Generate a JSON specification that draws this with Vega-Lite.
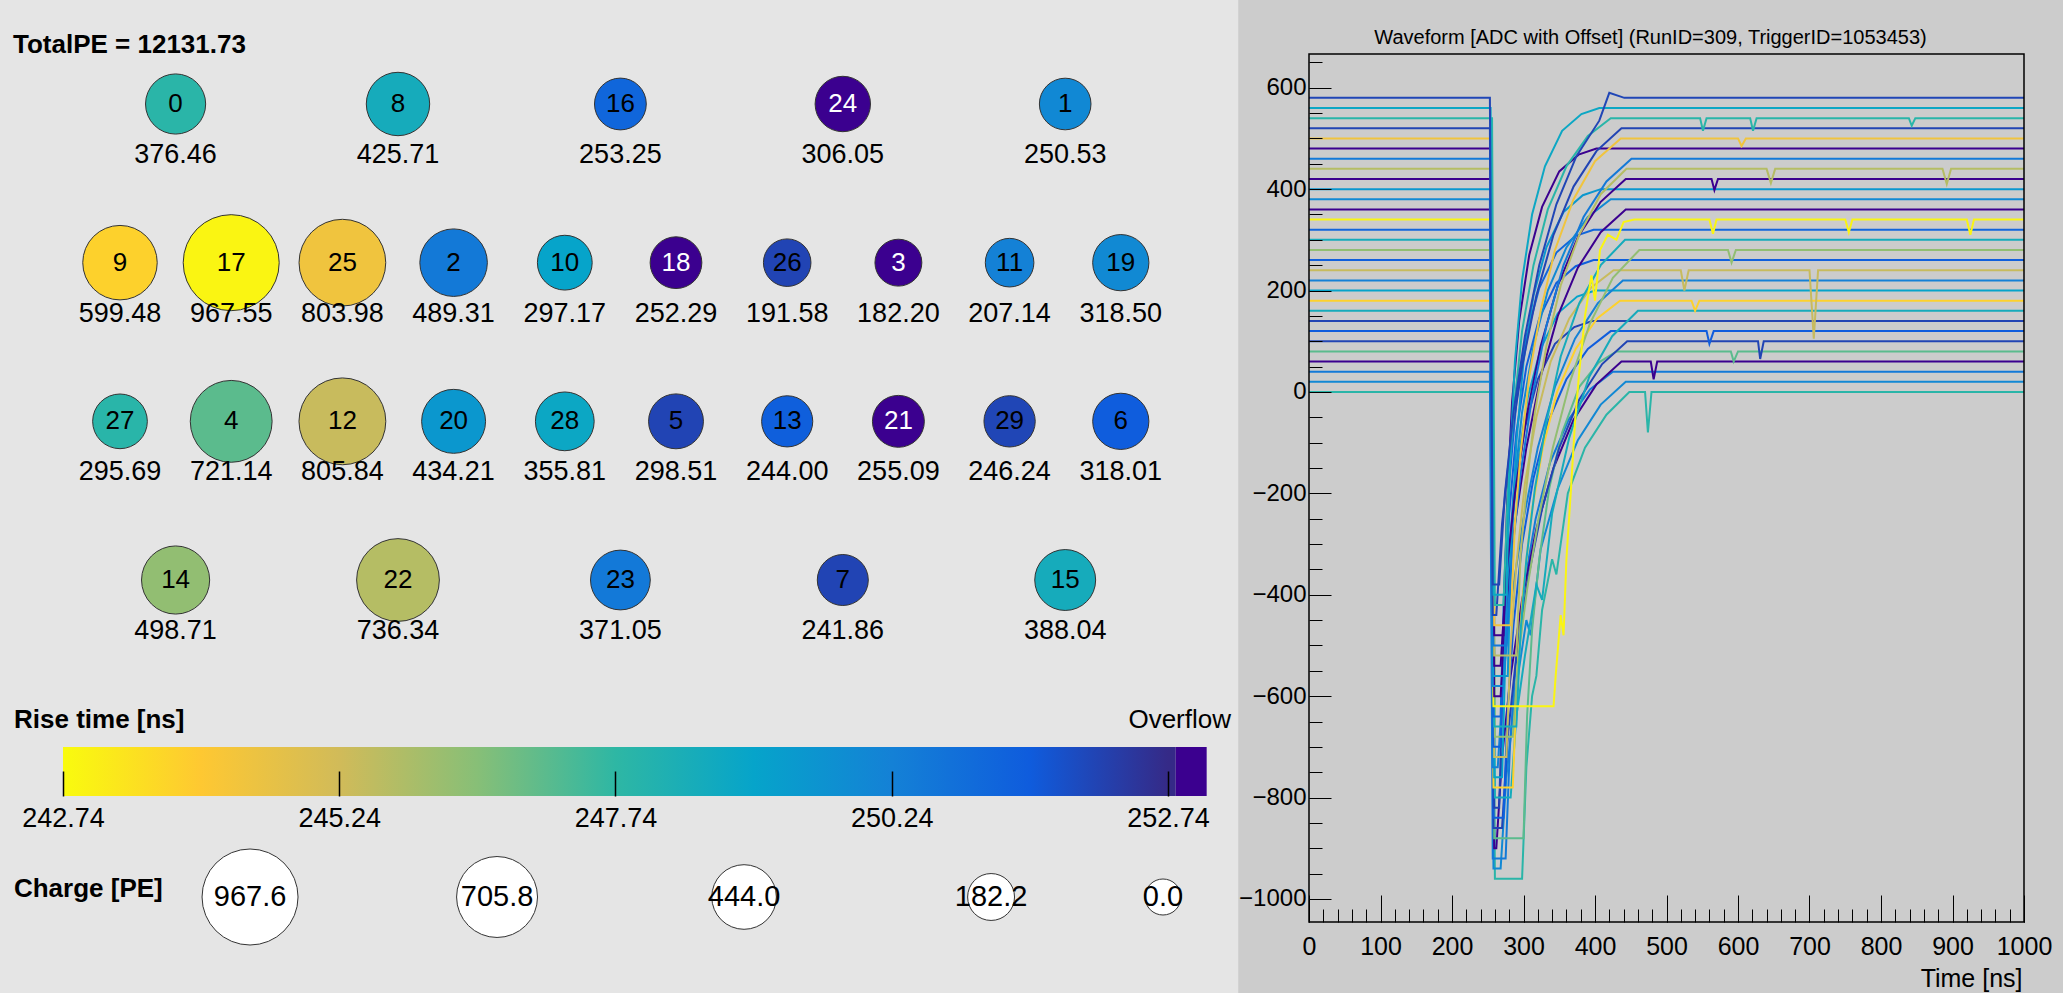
{
"$schema": "https://vega.github.io/schema/vega-lite/v6.json",
"background": "#e5e5e5",
"padding": 0,
"spacing": 0,
"config": {
  "view": {"stroke": null},
  "font": "Liberation Sans",
  "title": {"font": "Liberation Sans", "color": "#000000"},
  "axis": {"labelFont": "Liberation Sans", "titleFont": "Liberation Sans"},
  "text": {"font": "Liberation Sans", "color": "#000000"}
},
"datasets": {
  "pmt": [
    {"ch":0,"col":0.5,"row":0,"q":376.46,"rise":247.88},
    {"ch":8,"col":2.5,"row":0,"q":425.71,"rise":248.5},
    {"ch":16,"col":4.5,"row":0,"q":253.25,"rise":251.15},
    {"ch":24,"col":6.5,"row":0,"q":306.05,"rise":253.5},
    {"ch":1,"col":8.5,"row":0,"q":250.53,"rise":250.0},
    {"ch":9,"col":0,"row":1,"q":599.48,"rise":243.77},
    {"ch":17,"col":1,"row":1,"q":967.55,"rise":242.89},
    {"ch":25,"col":2,"row":1,"q":803.98,"rise":244.38},
    {"ch":2,"col":3,"row":1,"q":489.31,"rise":250.5},
    {"ch":10,"col":4,"row":1,"q":297.17,"rise":249.0},
    {"ch":18,"col":5,"row":1,"q":252.29,"rise":253.6},
    {"ch":26,"col":6,"row":1,"q":191.58,"rise":252.09},
    {"ch":3,"col":7,"row":1,"q":182.2,"rise":253.4},
    {"ch":11,"col":8,"row":1,"q":207.14,"rise":250.24},
    {"ch":19,"col":9,"row":1,"q":318.5,"rise":249.95},
    {"ch":27,"col":0,"row":2,"q":295.69,"rise":247.9},
    {"ch":4,"col":1,"row":2,"q":721.14,"rise":247.11},
    {"ch":12,"col":2,"row":2,"q":805.84,"rise":245.39},
    {"ch":20,"col":3,"row":2,"q":434.21,"rise":249.45},
    {"ch":28,"col":4,"row":2,"q":355.81,"rise":248.8},
    {"ch":5,"col":5,"row":2,"q":298.51,"rise":252.09},
    {"ch":13,"col":6,"row":2,"q":244.0,"rise":251.4},
    {"ch":21,"col":7,"row":2,"q":255.09,"rise":253.7},
    {"ch":29,"col":8,"row":2,"q":246.24,"rise":252.05},
    {"ch":6,"col":9,"row":2,"q":318.01,"rise":251.45},
    {"ch":14,"col":0.5,"row":3,"q":498.71,"rise":246.3},
    {"ch":22,"col":2.5,"row":3,"q":736.34,"rise":245.71},
    {"ch":23,"col":4.5,"row":3,"q":371.05,"rise":250.51},
    {"ch":7,"col":6.5,"row":3,"q":241.86,"rise":252.09},
    {"ch":15,"col":8.5,"row":3,"q":388.04,"rise":248.5}
  ],
  "legend": [{"q":967.6},{"q":705.8},{"q":444.0},{"q":182.2},{"q":0}],
  "wave": [
    {"ch":0,"t":0,"v":0},{"ch":0,"t":256,"v":0},{"ch":0,"t":260,"v":-960},{"ch":0,"t":298,"v":-960},{"ch":0,"t":304,"v":-740},{"ch":0,"t":312,"v":-600},{"ch":0,"t":318,"v":-560},{"ch":0,"t":326,"v":-430},{"ch":0,"t":340,"v":-330},{"ch":0,"t":346,"v":-360},{"ch":0,"t":362,"v":-200},{"ch":0,"t":386,"v":-110},{"ch":0,"t":416,"v":-45},{"ch":0,"t":448,"v":0},{"ch":0,"t":470,"v":0},{"ch":0,"t":474,"v":-80},{"ch":0,"t":479,"v":0},{"ch":0,"t":1000,"v":0},
    {"ch":1,"t":0,"v":20},{"ch":1,"t":254,"v":20},{"ch":1,"t":258,"v":-940},{"ch":1,"t":268,"v":-940},{"ch":1,"t":276,"v":-760},{"ch":1,"t":288,"v":-600},{"ch":1,"t":304,"v":-450},{"ch":1,"t":310,"v":-480},{"ch":1,"t":324,"v":-310},{"ch":1,"t":348,"v":-190},{"ch":1,"t":376,"v":-95},{"ch":1,"t":408,"v":-25},{"ch":1,"t":443,"v":20},{"ch":1,"t":1000,"v":20},
    {"ch":2,"t":0,"v":40},{"ch":2,"t":253,"v":40},{"ch":2,"t":257,"v":-920},{"ch":2,"t":275,"v":-920},{"ch":2,"t":281,"v":-700},{"ch":2,"t":289,"v":-540},{"ch":2,"t":301,"v":-380},{"ch":2,"t":317,"v":-250},{"ch":2,"t":337,"v":-140},{"ch":2,"t":363,"v":-55},{"ch":2,"t":393,"v":5},{"ch":2,"t":425,"v":40},{"ch":2,"t":1000,"v":40},
    {"ch":3,"t":0,"v":60},{"ch":3,"t":255,"v":60},{"ch":3,"t":259,"v":-900},{"ch":3,"t":262,"v":-900},{"ch":3,"t":270,"v":-720},{"ch":3,"t":282,"v":-560},{"ch":3,"t":298,"v":-410},{"ch":3,"t":318,"v":-270},{"ch":3,"t":342,"v":-150},{"ch":3,"t":370,"v":-55},{"ch":3,"t":402,"v":15},{"ch":3,"t":437,"v":60},{"ch":3,"t":478,"v":60},{"ch":3,"t":482,"v":25},{"ch":3,"t":487,"v":60},{"ch":3,"t":1000,"v":60},
    {"ch":4,"t":0,"v":80},{"ch":4,"t":255,"v":80},{"ch":4,"t":259,"v":-880},{"ch":4,"t":300,"v":-880},{"ch":4,"t":305,"v":-640},{"ch":4,"t":312,"v":-470},{"ch":4,"t":322,"v":-330},{"ch":4,"t":336,"v":-190},{"ch":4,"t":354,"v":-80},{"ch":4,"t":378,"v":10},{"ch":4,"t":405,"v":58},{"ch":4,"t":430,"v":80},{"ch":4,"t":590,"v":80},{"ch":4,"t":594,"v":60},{"ch":4,"t":600,"v":80},{"ch":4,"t":1000,"v":80},
    {"ch":5,"t":0,"v":100},{"ch":5,"t":254,"v":100},{"ch":5,"t":258,"v":-860},{"ch":5,"t":270,"v":-860},{"ch":5,"t":278,"v":-680},{"ch":5,"t":290,"v":-520},{"ch":5,"t":306,"v":-370},{"ch":5,"t":326,"v":-230},{"ch":5,"t":350,"v":-110},{"ch":5,"t":378,"v":-15},{"ch":5,"t":410,"v":55},{"ch":5,"t":445,"v":100},{"ch":5,"t":628,"v":100},{"ch":5,"t":631,"v":65},{"ch":5,"t":636,"v":100},{"ch":5,"t":1000,"v":100},
    {"ch":6,"t":0,"v":120},{"ch":6,"t":254,"v":120},{"ch":6,"t":258,"v":-840},{"ch":6,"t":272,"v":-840},{"ch":6,"t":278,"v":-620},{"ch":6,"t":286,"v":-460},{"ch":6,"t":298,"v":-300},{"ch":6,"t":314,"v":-170},{"ch":6,"t":334,"v":-60},{"ch":6,"t":360,"v":25},{"ch":6,"t":390,"v":85},{"ch":6,"t":422,"v":120},{"ch":6,"t":556,"v":120},{"ch":6,"t":560,"v":95},{"ch":6,"t":566,"v":120},{"ch":6,"t":1000,"v":120},
    {"ch":7,"t":0,"v":140},{"ch":7,"t":255,"v":140},{"ch":7,"t":259,"v":-820},{"ch":7,"t":266,"v":-820},{"ch":7,"t":271,"v":-560},{"ch":7,"t":278,"v":-360},{"ch":7,"t":288,"v":-200},{"ch":7,"t":302,"v":-70},{"ch":7,"t":320,"v":25},{"ch":7,"t":344,"v":95},{"ch":7,"t":371,"v":128},{"ch":7,"t":396,"v":140},{"ch":7,"t":1000,"v":140},
    {"ch":8,"t":0,"v":160},{"ch":8,"t":256,"v":160},{"ch":8,"t":260,"v":-800},{"ch":8,"t":282,"v":-800},{"ch":8,"t":290,"v":-640},{"ch":8,"t":302,"v":-520},{"ch":8,"t":318,"v":-380},{"ch":8,"t":326,"v":-410},{"ch":8,"t":340,"v":-240},{"ch":8,"t":364,"v":-90},{"ch":8,"t":392,"v":30},{"ch":8,"t":424,"v":110},{"ch":8,"t":460,"v":160},{"ch":8,"t":1000,"v":160},
    {"ch":9,"t":0,"v":180},{"ch":9,"t":254,"v":180},{"ch":9,"t":258,"v":-780},{"ch":9,"t":285,"v":-780},{"ch":9,"t":291,"v":-560},{"ch":9,"t":299,"v":-400},{"ch":9,"t":311,"v":-240},{"ch":9,"t":327,"v":-110},{"ch":9,"t":347,"v":0},{"ch":9,"t":373,"v":85},{"ch":9,"t":403,"v":145},{"ch":9,"t":435,"v":180},{"ch":9,"t":535,"v":180},{"ch":9,"t":540,"v":160},{"ch":9,"t":546,"v":180},{"ch":9,"t":1000,"v":180},
    {"ch":10,"t":0,"v":200},{"ch":10,"t":255,"v":200},{"ch":10,"t":259,"v":-760},{"ch":10,"t":270,"v":-760},{"ch":10,"t":275,"v":-500},{"ch":10,"t":282,"v":-300},{"ch":10,"t":292,"v":-140},{"ch":10,"t":306,"v":-10},{"ch":10,"t":324,"v":85},{"ch":10,"t":348,"v":155},{"ch":10,"t":375,"v":188},{"ch":10,"t":400,"v":200},{"ch":10,"t":1000,"v":200},
    {"ch":11,"t":0,"v":220},{"ch":11,"t":253,"v":220},{"ch":11,"t":257,"v":-740},{"ch":11,"t":264,"v":-740},{"ch":11,"t":272,"v":-560},{"ch":11,"t":284,"v":-400},{"ch":11,"t":300,"v":-250},{"ch":11,"t":320,"v":-110},{"ch":11,"t":344,"v":10},{"ch":11,"t":372,"v":105},{"ch":11,"t":404,"v":175},{"ch":11,"t":439,"v":220},{"ch":11,"t":1000,"v":220},
    {"ch":12,"t":0,"v":240},{"ch":12,"t":255,"v":240},{"ch":12,"t":259,"v":-720},{"ch":12,"t":276,"v":-720},{"ch":12,"t":282,"v":-500},{"ch":12,"t":290,"v":-340},{"ch":12,"t":302,"v":-180},{"ch":12,"t":318,"v":-50},{"ch":12,"t":338,"v":60},{"ch":12,"t":364,"v":145},{"ch":12,"t":394,"v":205},{"ch":12,"t":426,"v":240},{"ch":12,"t":520,"v":240},{"ch":12,"t":525,"v":200},{"ch":12,"t":531,"v":240},{"ch":12,"t":700,"v":240},{"ch":12,"t":706,"v":105},{"ch":12,"t":712,"v":240},{"ch":12,"t":1000,"v":240},
    {"ch":13,"t":0,"v":260},{"ch":13,"t":254,"v":260},{"ch":13,"t":258,"v":-700},{"ch":13,"t":268,"v":-700},{"ch":13,"t":273,"v":-440},{"ch":13,"t":280,"v":-240},{"ch":13,"t":290,"v":-80},{"ch":13,"t":304,"v":50},{"ch":13,"t":322,"v":145},{"ch":13,"t":346,"v":215},{"ch":13,"t":373,"v":248},{"ch":13,"t":398,"v":260},{"ch":13,"t":1000,"v":260},
    {"ch":14,"t":0,"v":280},{"ch":14,"t":256,"v":280},{"ch":14,"t":260,"v":-680},{"ch":14,"t":285,"v":-680},{"ch":14,"t":293,"v":-520},{"ch":14,"t":305,"v":-390},{"ch":14,"t":321,"v":-250},{"ch":14,"t":341,"v":-110},{"ch":14,"t":365,"v":20},{"ch":14,"t":393,"v":135},{"ch":14,"t":425,"v":225},{"ch":14,"t":462,"v":280},{"ch":14,"t":586,"v":280},{"ch":14,"t":591,"v":255},{"ch":14,"t":597,"v":280},{"ch":14,"t":1000,"v":280},
    {"ch":15,"t":0,"v":300},{"ch":15,"t":255,"v":300},{"ch":15,"t":259,"v":-660},{"ch":15,"t":290,"v":-660},{"ch":15,"t":296,"v":-470},{"ch":15,"t":304,"v":-330},{"ch":15,"t":316,"v":-190},{"ch":15,"t":332,"v":-60},{"ch":15,"t":352,"v":70},{"ch":15,"t":378,"v":175},{"ch":15,"t":408,"v":250},{"ch":15,"t":442,"v":300},{"ch":15,"t":1000,"v":300},
    {"ch":16,"t":0,"v":320},{"ch":16,"t":254,"v":320},{"ch":16,"t":258,"v":-640},{"ch":16,"t":268,"v":-640},{"ch":16,"t":273,"v":-380},{"ch":16,"t":280,"v":-180},{"ch":16,"t":290,"v":-20},{"ch":16,"t":304,"v":110},{"ch":16,"t":322,"v":205},{"ch":16,"t":346,"v":275},{"ch":16,"t":373,"v":308},{"ch":16,"t":398,"v":320},{"ch":16,"t":1000,"v":320},
    {"ch":17,"t":0,"v":340},{"ch":17,"t":254,"v":340},{"ch":17,"t":258,"v":-620},{"ch":17,"t":342,"v":-620},{"ch":17,"t":345,"v":-560},{"ch":17,"t":352,"v":-440},{"ch":17,"t":356,"v":-480},{"ch":17,"t":360,"v":-330},{"ch":17,"t":366,"v":-200},{"ch":17,"t":372,"v":-60},{"ch":17,"t":378,"v":40},{"ch":17,"t":386,"v":150},{"ch":17,"t":395,"v":230},{"ch":17,"t":400,"v":180},{"ch":17,"t":407,"v":280},{"ch":17,"t":418,"v":310},{"ch":17,"t":430,"v":300},{"ch":17,"t":440,"v":335},{"ch":17,"t":455,"v":340},{"ch":17,"t":560,"v":340},{"ch":17,"t":565,"v":312},{"ch":17,"t":570,"v":340},{"ch":17,"t":750,"v":340},{"ch":17,"t":755,"v":315},{"ch":17,"t":760,"v":340},{"ch":17,"t":920,"v":340},{"ch":17,"t":925,"v":310},{"ch":17,"t":930,"v":340},{"ch":17,"t":1000,"v":340},
    {"ch":18,"t":0,"v":360},{"ch":18,"t":255,"v":360},{"ch":18,"t":259,"v":-600},{"ch":18,"t":268,"v":-600},{"ch":18,"t":276,"v":-420},{"ch":18,"t":288,"v":-260},{"ch":18,"t":304,"v":-110},{"ch":18,"t":324,"v":30},{"ch":18,"t":348,"v":150},{"ch":18,"t":376,"v":245},{"ch":18,"t":408,"v":315},{"ch":18,"t":443,"v":360},{"ch":18,"t":1000,"v":360},
    {"ch":19,"t":0,"v":380},{"ch":19,"t":253,"v":380},{"ch":19,"t":257,"v":-580},{"ch":19,"t":272,"v":-580},{"ch":19,"t":278,"v":-360},{"ch":19,"t":286,"v":-200},{"ch":19,"t":298,"v":-40},{"ch":19,"t":314,"v":90},{"ch":19,"t":334,"v":200},{"ch":19,"t":360,"v":285},{"ch":19,"t":390,"v":345},{"ch":19,"t":422,"v":380},{"ch":19,"t":1000,"v":380},
    {"ch":20,"t":0,"v":400},{"ch":20,"t":254,"v":400},{"ch":20,"t":258,"v":-560},{"ch":20,"t":278,"v":-560},{"ch":20,"t":283,"v":-300},{"ch":20,"t":290,"v":-100},{"ch":20,"t":300,"v":60},{"ch":20,"t":314,"v":190},{"ch":20,"t":332,"v":285},{"ch":20,"t":356,"v":355},{"ch":20,"t":383,"v":388},{"ch":20,"t":408,"v":400},{"ch":20,"t":1000,"v":400},
    {"ch":21,"t":0,"v":420},{"ch":21,"t":255,"v":420},{"ch":21,"t":259,"v":-540},{"ch":21,"t":268,"v":-540},{"ch":21,"t":276,"v":-360},{"ch":21,"t":288,"v":-200},{"ch":21,"t":304,"v":-50},{"ch":21,"t":324,"v":90},{"ch":21,"t":348,"v":210},{"ch":21,"t":376,"v":305},{"ch":21,"t":408,"v":375},{"ch":21,"t":443,"v":420},{"ch":21,"t":563,"v":420},{"ch":21,"t":567,"v":398},{"ch":21,"t":572,"v":420},{"ch":21,"t":1000,"v":420},
    {"ch":22,"t":0,"v":440},{"ch":22,"t":255,"v":440},{"ch":22,"t":259,"v":-520},{"ch":22,"t":290,"v":-520},{"ch":22,"t":296,"v":-320},{"ch":22,"t":304,"v":-190},{"ch":22,"t":316,"v":-40},{"ch":22,"t":332,"v":90},{"ch":22,"t":352,"v":210},{"ch":22,"t":378,"v":310},{"ch":22,"t":408,"v":390},{"ch":22,"t":444,"v":440},{"ch":22,"t":640,"v":440},{"ch":22,"t":646,"v":412},{"ch":22,"t":652,"v":440},{"ch":22,"t":886,"v":440},{"ch":22,"t":892,"v":410},{"ch":22,"t":898,"v":440},{"ch":22,"t":1000,"v":440},
    {"ch":23,"t":0,"v":460},{"ch":23,"t":254,"v":460},{"ch":23,"t":258,"v":-500},{"ch":23,"t":276,"v":-500},{"ch":23,"t":284,"v":-320},{"ch":23,"t":296,"v":-160},{"ch":23,"t":312,"v":-10},{"ch":23,"t":332,"v":130},{"ch":23,"t":356,"v":250},{"ch":23,"t":384,"v":345},{"ch":23,"t":416,"v":415},{"ch":23,"t":451,"v":460},{"ch":23,"t":1000,"v":460},
    {"ch":24,"t":0,"v":480},{"ch":24,"t":255,"v":480},{"ch":24,"t":259,"v":-480},{"ch":24,"t":272,"v":-480},{"ch":24,"t":277,"v":-220},{"ch":24,"t":284,"v":-20},{"ch":24,"t":294,"v":140},{"ch":24,"t":308,"v":270},{"ch":24,"t":326,"v":365},{"ch":24,"t":350,"v":435},{"ch":24,"t":377,"v":468},{"ch":24,"t":402,"v":480},{"ch":24,"t":1000,"v":480},
    {"ch":25,"t":0,"v":500},{"ch":25,"t":255,"v":500},{"ch":25,"t":259,"v":-460},{"ch":25,"t":282,"v":-460},{"ch":25,"t":288,"v":-260},{"ch":25,"t":296,"v":-120},{"ch":25,"t":308,"v":30},{"ch":25,"t":324,"v":160},{"ch":25,"t":344,"v":280},{"ch":25,"t":370,"v":380},{"ch":25,"t":400,"v":455},{"ch":25,"t":436,"v":500},{"ch":25,"t":600,"v":500},{"ch":25,"t":605,"v":485},{"ch":25,"t":611,"v":500},{"ch":25,"t":1000,"v":500},
    {"ch":26,"t":0,"v":520},{"ch":26,"t":253,"v":520},{"ch":26,"t":257,"v":-440},{"ch":26,"t":262,"v":-440},{"ch":26,"t":270,"v":-260},{"ch":26,"t":282,"v":-100},{"ch":26,"t":298,"v":50},{"ch":26,"t":318,"v":190},{"ch":26,"t":342,"v":310},{"ch":26,"t":370,"v":405},{"ch":26,"t":402,"v":475},{"ch":26,"t":437,"v":520},{"ch":26,"t":1000,"v":520},
    {"ch":27,"t":0,"v":540},{"ch":27,"t":256,"v":540},{"ch":27,"t":260,"v":-420},{"ch":27,"t":272,"v":-420},{"ch":27,"t":278,"v":-200},{"ch":27,"t":286,"v":-40},{"ch":27,"t":298,"v":120},{"ch":27,"t":314,"v":250},{"ch":27,"t":334,"v":360},{"ch":27,"t":360,"v":445},{"ch":27,"t":390,"v":505},{"ch":27,"t":422,"v":540},{"ch":27,"t":547,"v":540},{"ch":27,"t":551,"v":515},{"ch":27,"t":556,"v":540},{"ch":27,"t":617,"v":540},{"ch":27,"t":621,"v":515},{"ch":27,"t":626,"v":540},{"ch":27,"t":839,"v":540},{"ch":27,"t":843,"v":525},{"ch":27,"t":848,"v":540},{"ch":27,"t":1000,"v":540},
    {"ch":28,"t":0,"v":560},{"ch":28,"t":254,"v":560},{"ch":28,"t":258,"v":-400},{"ch":28,"t":276,"v":-400},{"ch":28,"t":281,"v":-140},{"ch":28,"t":288,"v":60},{"ch":28,"t":298,"v":220},{"ch":28,"t":312,"v":350},{"ch":28,"t":330,"v":445},{"ch":28,"t":354,"v":515},{"ch":28,"t":381,"v":548},{"ch":28,"t":406,"v":560},{"ch":28,"t":1000,"v":560},
    {"ch":29,"t":0,"v":580},{"ch":29,"t":253,"v":580},{"ch":29,"t":257,"v":-380},{"ch":29,"t":266,"v":-380},{"ch":29,"t":274,"v":-200},{"ch":29,"t":286,"v":-40},{"ch":29,"t":302,"v":110},{"ch":29,"t":322,"v":250},{"ch":29,"t":346,"v":370},{"ch":29,"t":374,"v":465},{"ch":29,"t":406,"v":535},{"ch":29,"t":420,"v":590},{"ch":29,"t":441,"v":580},{"ch":29,"t":1000,"v":580}
  ]
},
"hconcat": [
  {
    "spacing": 16,
    "vconcat": [
      {
        "width": 1238,
        "height": 636,
        "title": {"text": "TotalPE = 12131.73", "anchor": "start", "fontSize": 26, "fontWeight": "bold", "dx": 13, "offset": -4},
        "data": {"name": "pmt"},
        "encoding": {
          "x": {"field": "col", "type": "quantitative", "scale": {"domain": [-1.0791, 10.054], "nice": false, "zero": false}, "axis": null},
          "y": {"field": "row", "type": "quantitative", "scale": {"domain": [-0.3151, 3.6932], "nice": false, "zero": false, "reverse": true}, "axis": null}
        },
        "layer": [
          {
            "mark": {"type": "point", "shape": "circle", "filled": true, "opacity": 1, "stroke": "#333333", "strokeWidth": 1},
            "encoding": {
              "size": {"field": "q", "type": "quantitative", "legend": null, "scale": {"type": "pow", "exponent": 1.3, "domain": [0, 967.6], "range": [1296, 9216], "zero": false}},
              "color": {"field": "rise", "type": "quantitative", "legend": null,
                "scale": {"type": "linear", "interpolate": "rgb", "clamp": true,
                  "domain": [242.74, 243.99, 245.24, 246.49, 247.74, 248.99, 250.24, 251.49, 252.74, 252.76, 260],
                  "range": ["#f9fb0e", "#fec832", "#d1bb59", "#87bf77", "#2eb7a4", "#06a4ca", "#1481d6", "#0f5cdd", "#352a87", "#3b008f", "#3b008f"]}}
            }
          },
          {
            "mark": {"type": "text", "fontSize": 26, "baseline": "middle", "align": "center"},
            "encoding": {
              "text": {"field": "ch", "type": "nominal"},
              "color": {"condition": {"test": "datum.rise > 252.74", "value": "#ffffff"}, "value": "#000000"}
            }
          },
          {
            "mark": {"type": "text", "fontSize": 27, "baseline": "middle", "align": "center", "dy": 51, "color": "#000000"},
            "encoding": {"text": {"field": "q", "type": "quantitative", "format": ".2f"}}
          }
        ]
      },
      {
        "width": 1238,
        "height": 49,
        "layer": [
          {
            "data": {"values": [{"lo": 242.74, "hi": 252.81}]},
            "mark": {"type": "rect", "color": {"gradient": "linear", "x1": 0, "y1": 0, "x2": 1, "y2": 0, "stops": [
              {"offset": 0, "color": "#f9fb0e"}, {"offset": 0.1241, "color": "#fec832"}, {"offset": 0.2483, "color": "#d1bb59"},
              {"offset": 0.3724, "color": "#87bf77"}, {"offset": 0.4965, "color": "#2eb7a4"}, {"offset": 0.6207, "color": "#06a4ca"},
              {"offset": 0.7448, "color": "#1481d6"}, {"offset": 0.8689, "color": "#0f5cdd"}, {"offset": 0.993, "color": "#352a87"},
              {"offset": 1, "color": "#352a87"}]}},
            "encoding": {
              "x": {"field": "lo", "type": "quantitative", "scale": {"domain": [242.1699, 253.3735], "nice": false, "zero": false},
                "axis": {"orient": "bottom", "values": [242.74, 245.24, 247.74, 250.24, 252.74], "format": ".2f", "domain": false, "grid": false, "tickSize": -25, "tickWidth": 1.5, "tickColor": "#000000", "labelFontSize": 27, "labelColor": "#000000", "labelPadding": 34, "labelFlush": false, "labelOverlap": false, "title": null, "zindex": 1}},
              "x2": {"field": "hi"}
            }
          },
          {
            "data": {"values": [{"lo": 252.81, "hi": 253.09}]},
            "mark": {"type": "rect", "color": "#3b008f"},
            "encoding": {
              "x": {"field": "lo", "type": "quantitative",
                "axis": {"orient": "bottom", "values": [242.74, 245.24, 247.74, 250.24, 252.74], "format": ".2f", "domain": false, "grid": false, "tickSize": -25, "tickWidth": 1.5, "tickColor": "#000000", "labelFontSize": 27, "labelColor": "#000000", "labelPadding": 34, "labelFlush": false, "labelOverlap": false, "title": null, "zindex": 1}},
              "x2": {"field": "hi"}
            }
          },
          {
            "data": {"values": [{"label": "Rise time [ns]", "rt": 242.2966}]},
            "mark": {"type": "text", "align": "left", "baseline": "middle", "fontSize": 26, "fontWeight": "bold", "dy": -52},
            "encoding": {
              "x": {"field": "rt", "type": "quantitative",
                "axis": {"orient": "bottom", "values": [242.74, 245.24, 247.74, 250.24, 252.74], "format": ".2f", "domain": false, "grid": false, "tickSize": -25, "tickWidth": 1.5, "tickColor": "#000000", "labelFontSize": 27, "labelColor": "#000000", "labelPadding": 34, "labelFlush": false, "labelOverlap": false, "title": null, "zindex": 1}},
              "text": {"field": "label", "type": "nominal"}
            }
          },
          {
            "data": {"values": [{"label": "Overflow", "rt": 253.3102}]},
            "mark": {"type": "text", "align": "right", "baseline": "middle", "fontSize": 26, "dy": -52},
            "encoding": {
              "x": {"field": "rt", "type": "quantitative",
                "axis": {"orient": "bottom", "values": [242.74, 245.24, 247.74, 250.24, 252.74], "format": ".2f", "domain": false, "grid": false, "tickSize": -25, "tickWidth": 1.5, "tickColor": "#000000", "labelFontSize": 27, "labelColor": "#000000", "labelPadding": 34, "labelFlush": false, "labelOverlap": false, "title": null, "zindex": 1}},
              "text": {"field": "label", "type": "nominal"}
            }
          }
        ]
      },
      {
        "width": 1238,
        "height": 98,
        "layer": [
          {
            "data": {"name": "legend"},
            "mark": {"type": "point", "shape": "circle", "filled": true, "opacity": 1, "fill": "#ffffff", "stroke": "#333333", "strokeWidth": 1},
            "encoding": {
              "x": {"field": "q", "type": "quantitative", "scale": {"domain": [-79.5, 1232.6], "reverse": true, "nice": false, "zero": false}, "axis": null},
              "size": {"field": "q", "type": "quantitative", "legend": null, "scale": {"type": "pow", "exponent": 1.3, "domain": [0, 967.6], "range": [1296, 9216], "zero": false}}
            }
          },
          {
            "data": {"name": "legend"},
            "mark": {"type": "text", "fontSize": 29, "baseline": "middle", "align": "center"},
            "encoding": {
              "x": {"field": "q", "type": "quantitative", "axis": null},
              "text": {"field": "q", "type": "quantitative", "format": ".1f"}
            }
          },
          {
            "data": {"values": [{"label": "Charge [PE]", "pos": 1217.8}]},
            "mark": {"type": "text", "fontSize": 26, "fontWeight": "bold", "baseline": "middle", "align": "left", "dy": -8.5},
            "encoding": {
              "x": {"field": "pos", "type": "quantitative", "axis": null},
              "text": {"field": "label", "type": "nominal"}
            }
          }
        ]
      }
    ]
  },
  {
    "width": 715,
    "height": 868,
    "title": {"text": "Waveform [ADC with Offset] (RunID=309, TriggerID=1053453)", "fontSize": 20, "fontWeight": "normal", "anchor": "middle", "frame": "bounds", "offset": -48, "zindex": 1},
    "resolve": {"axis": {"x": "independent", "y": "independent"}},
    "layer": [
      {
        "data": {"values": [{"t0": -99, "t1": 1054.5, "v0": 773, "v1": -1185.4}]},
        "mark": {"type": "rect", "color": "#cccccc", "clip": false},
        "encoding": {
          "x": {"field": "t0", "type": "quantitative", "scale": {"domain": [0, 1000], "nice": false, "zero": false},
            "axis": {"orient": "bottom", "values": [0,20,40,60,80,100,120,140,160,180,200,220,240,260,280,300,320,340,360,380,400,420,440,460,480,500,520,540,560,580,600,620,640,660,680,700,720,740,760,780,800,820,840,860,880,900,920,940,960,980,1000], "labels": false, "tickSize": -13, "tickColor": "#000000", "tickWidth": 1, "domain": false, "grid": false, "title": null, "zindex": 1}},
          "x2": {"field": "t1"},
          "y": {"field": "v0", "type": "quantitative", "scale": {"domain": [-1045.4, 666.5], "nice": false, "zero": false},
            "axis": {"orient": "left", "values": [-1000,-950,-900,-850,-800,-750,-700,-650,-600,-550,-500,-450,-400,-350,-300,-250,-200,-150,-100,-50,0,50,100,150,200,250,300,350,400,450,500,550,600,650], "labels": false, "tickSize": -13, "tickColor": "#000000", "tickWidth": 1, "domain": false, "grid": false, "title": null, "zindex": 1}},
          "y2": {"field": "v1"}
        }
      },
      {
        "data": {"name": "wave"},
        "transform": [{"lookup": "ch", "from": {"data": {"name": "pmt"}, "key": "ch", "fields": ["rise"]}}],
        "mark": {"type": "line", "strokeWidth": 2, "clip": true},
        "encoding": {
          "x": {"field": "t", "type": "quantitative", "scale": {"domain": [0, 1000], "nice": false, "zero": false},
            "axis": {"orient": "bottom", "values": [0,100,200,300,400,500,600,700,800,900,1000], "format": "d", "tickSize": -27, "tickColor": "#000000", "tickWidth": 1, "domain": false, "grid": false, "labelFontSize": 25, "labelColor": "#000000", "labelPadding": 39, "labelFlush": false, "labelOverlap": false, "title": "Time [ns]", "titleFontSize": 25, "titleFontWeight": "normal", "titleColor": "#000000", "titleAlign": "right", "titleBaseline": "top", "titleX": 713, "titleY": 44, "zindex": 1}},
          "y": {"field": "v", "type": "quantitative", "scale": {"domain": [-1045.4, 666.5], "nice": false, "zero": false},
            "axis": {"orient": "left", "values": [-1000,-800,-600,-400,-200,0,200,400,600], "format": "d", "tickSize": -22, "tickColor": "#000000", "tickWidth": 1, "domain": false, "grid": false, "labelFontSize": 24, "labelColor": "#000000", "labelPadding": 25, "labelOverlap": false, "title": null, "minExtent": 71, "maxExtent": 71, "zindex": 1}},
          "detail": {"field": "ch", "type": "nominal"},
          "color": {"field": "rise", "type": "quantitative", "legend": null,
            "scale": {"type": "linear", "interpolate": "rgb", "clamp": true,
              "domain": [242.74, 243.99, 245.24, 246.49, 247.74, 248.99, 250.24, 251.49, 252.74, 252.76, 260],
              "range": ["#f9fb0e", "#fec832", "#d1bb59", "#87bf77", "#2eb7a4", "#06a4ca", "#1481d6", "#0f5cdd", "#352a87", "#3b008f", "#3b008f"]}}
        }
      },
      {
        "data": {"values": [{"t0": 0, "t1": 1000, "v0": -1045.4, "v1": 666.5}]},
        "mark": {"type": "rect", "filled": false, "color": "#000000", "strokeWidth": 1.5},
        "encoding": {
          "x": {"field": "t0", "type": "quantitative", "axis": null},
          "x2": {"field": "t1"},
          "y": {"field": "v0", "type": "quantitative", "axis": null},
          "y2": {"field": "v1"}
        }
      }
    ]
  }
]
}
